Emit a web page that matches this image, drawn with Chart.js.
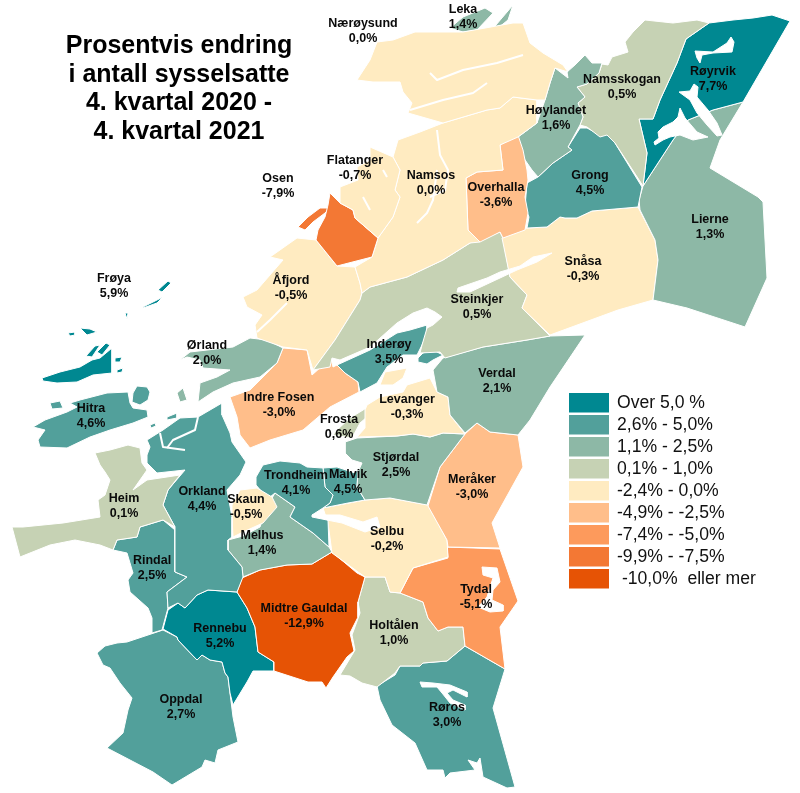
<!DOCTYPE html>
<html lang="no">
<head>
<meta charset="utf-8">
<title>Prosentvis endring i antall sysselsatte</title>
<script src="https://cdn.jsdelivr.net/npm/chart.js@4"></script>
<style>
  html, body { margin: 0; padding: 0; background: #fff; }
  canvas { display: block; }
</style>
</head>
<body>
<canvas id="kart" width="800" height="793"></canvas>
<script>
// Tittel og tegnforklaring
const tittel = ['Prosentvis endring', 'i antall sysselsatte', '4. kvartal 2020 -', '4. kvartal 2021'];
const klasseTekst = ['Over 5,0 %', '2,6% - 5,0%', '1,1% - 2,5%', '0,1% - 1,0%', '-2,4% - 0,0%',
  '-4,9% - -2,5%', '-7,4% - -5,0%', '-9,9% - -7,5%', ' -10,0%  eller mer'];
const klasseFarge = ['#008891', '#52A09B', '#8DB8A6', '#C6D2B4', '#FFEBC1',
  '#FFBE8A', '#FD9A5C', '#F37834', '#E65305'];

// Kommunene: navn, endring og fargeklasse
const kommuner = ['Nærøysund', 'Leka', 'Flatanger', 'Osen', 'Namsos', 'Overhalla', 'Høylandet', 'Namsskogan',
  'Røyrvik', 'Grong', 'Lierne', 'Snåsa', 'Steinkjer', 'Åfjord', 'Frøya', 'Ørland', 'Inderøy', 'Verdal',
  'Indre Fosen', 'Levanger', 'Frosta', 'Hitra', 'Stjørdal', 'Meråker', 'Heim', 'Orkland', 'Skaun',
  'Trondheim', 'Malvik', 'Selbu', 'Melhus', 'Rindal', 'Midtre Gauldal', 'Tydal', 'Holtålen', 'Rennebu',
  'Oppdal', 'Røros'];
const endring = [0.0, 1.4, -0.7, -7.9, 0.0, -3.6, 1.6, 0.5,
  7.7, 4.5, 1.3, -0.3, 0.5, -0.5, 5.9, 2.0, 3.5, 2.1,
  -3.0, -0.3, 0.6, 4.6, 2.5, -3.0, 0.1, 4.4, -0.5,
  4.1, 4.5, -0.2, 1.4, 2.5, -12.9, -5.1, 1.0, 5.2,
  2.7, 3.0];
const klasse = [4, 2, 4, 7, 4, 5, 2, 3,
  0, 1, 2, 4, 3, 4, 0, 2, 1, 2,
  5, 4, 3, 1, 2, 5, 3, 1, 4,
  1, 1, 4, 2, 1, 8, 6, 3, 0,
  1, 1];
const etikettX = [363, 463, 355, 278, 431, 496, 556, 622,
  713, 590, 710, 583, 477, 291, 114, 207, 389, 497,
  279, 407, 339, 91, 396, 472, 124, 202, 246,
  296, 348, 387, 262, 152, 304, 476, 394, 220,
  181, 447];
const etikettY = [24, 10, 161, 179, 176, 188, 111, 80,
  72, 176, 220, 262, 300, 281, 279, 346, 345, 374,
  398, 400, 420, 409, 458, 480, 499, 492, 500,
  476, 475, 532, 536, 561, 609, 590, 626, 629,
  700, 708];

// Omriss lest av kartet
const naeroeysund = [[377,42],[393,40],[415,32],[463,32],[513,23],[523,23],[530,43],[543,53],[563,65],[568,72],[555,68],[550,83],[545,100],[537,100],[513,97],[500,108],[487,110],[443,123],[408,113],[412,103],[403,92],[400,82],[373,82],[357,80],[370,60]];
const leka1 = [[450,28],[463,17],[485,8],[493,13],[477,30],[463,32]];
const leka2 = [[490,32],[513,5],[508,20],[493,32]];
const namsos = [[398,140],[420,132],[443,123],[487,110],[500,108],[513,97],[537,100],[537,123],[518,137],[500,145],[503,170],[477,172],[466,178],[468,230],[480,242],[470,243],[443,260],[407,277],[370,287],[362,293],[360,283],[355,267],[372,257],[378,238],[393,217],[400,197],[395,190],[400,170],[393,157]];
const flatanger = [[370,147],[393,157],[400,170],[395,190],[400,197],[393,217],[378,238],[355,218],[353,210],[340,203],[340,187],[358,180],[357,167],[370,160]];
const osen1 = [[330,193],[340,203],[353,210],[355,218],[378,238],[372,257],[337,266],[316,240],[318,230],[325,217],[328,205]];
const osen2 = [[298,227],[308,217],[320,208],[330,208],[325,213],[313,222],[305,230]];
const aafjord = [[316,240],[337,266],[355,267],[360,283],[362,293],[360,300],[335,340],[313,370],[307,350],[283,347],[257,338],[255,325],[262,315],[247,307],[243,297],[257,290],[283,260],[270,257],[297,238]];
const overhalla = [[518,135],[523,150],[527,170],[528,180],[525,197],[528,213],[525,230],[503,238],[500,232],[480,242],[468,230],[466,178],[477,172],[503,170],[500,145]];
const hoeylandet = [[585,55],[592,63],[602,63],[599,73],[587,84],[577,87],[585,97],[578,103],[583,117],[580,125],[568,147],[572,150],[553,163],[538,177],[532,170],[523,157],[518,137],[537,123],[545,100],[550,83],[555,68],[568,78],[567,72],[575,65]];
const namsskogan = [[709,23],[686,39],[677,63],[660,100],[653,119],[639,119],[647,153],[643,186],[615,143],[607,135],[600,137],[587,127],[580,125],[583,117],[578,103],[585,97],[577,87],[587,84],[599,73],[602,64],[608,65],[612,57],[628,52],[625,42],[633,32],[645,20],[673,23],[697,20]];
const roeyrvik = [[709,23],[733,20],[753,18],[772,15],[790,21],[743,102],[713,110],[688,120],[673,140],[643,186],[647,153],[639,119],[653,119],[660,100],[677,63],[686,39]];
const grong = [[587,128],[600,135],[607,134],[615,143],[642,187],[638,207],[592,211],[577,218],[565,218],[560,217],[547,227],[527,228],[529,217],[525,207],[527,183],[538,177],[553,163],[572,150],[568,147],[580,128]];
const lierne = [[743,102],[713,110],[688,120],[673,140],[643,186],[639,200],[640,210],[655,240],[658,260],[653,300],[687,308],[745,327],[767,278],[763,202],[758,197],[710,168],[720,140]];
const snaasa = [[638,207],[655,240],[658,260],[653,300],[618,310],[550,335],[522,308],[527,295],[510,277],[502,238],[527,228],[547,227],[560,217],[565,218],[577,218],[592,211]];
const steinkjer = [[362,293],[370,287],[407,277],[443,260],[470,243],[500,232],[503,238],[510,277],[527,295],[522,308],[550,336],[527,340],[483,347],[445,358],[440,352],[420,353],[422,345],[427,328],[433,325],[442,317],[435,312],[427,308],[413,313],[397,323],[370,347],[340,360],[332,358],[330,367],[313,370],[335,340],[360,300]];
const inderoey1 = [[337,365],[370,350],[397,333],[410,330],[427,325],[427,333],[422,345],[417,355],[403,355],[387,367],[377,383],[360,392],[358,382],[345,373]];
const inderoey2 = [[418,358],[423,353],[433,350],[443,355],[433,360],[427,364],[418,362]];
const verdal = [[585,335],[550,336],[527,340],[483,347],[443,358],[433,370],[437,392],[448,397],[450,415],[465,433],[477,423],[490,432],[518,435],[530,420],[550,387]];
const levanger1 = [[437,392],[448,397],[450,415],[465,434],[443,433],[430,437],[413,434],[397,436],[357,437],[365,428],[365,410],[367,405],[380,397],[403,392],[407,385],[430,378]];
const levanger2 = [[380,385],[385,372],[407,368],[403,378],[393,385]];
const frosta = [[368,407],[367,417],[360,423],[352,438],[333,435],[337,430],[350,418]];
const stjoerdal = [[465,434],[443,433],[430,437],[413,434],[397,436],[357,438],[345,442],[345,453],[352,460],[362,463],[358,472],[357,487],[365,500],[390,498],[427,505],[440,467]];
const meraaker = [[477,423],[490,432],[518,435],[523,467],[492,523],[500,548],[448,547],[447,540],[428,506],[440,467],[465,434]];
const selbu = [[323,508],[365,500],[390,498],[428,505],[447,540],[448,557],[413,568],[400,593],[390,592],[385,577],[365,577],[332,553],[328,523]];
const trondheim = [[256,477],[263,465],[280,461],[300,463],[307,467],[323,468],[325,487],[333,495],[330,503],[323,508],[312,515],[328,520],[329,547],[313,533],[290,517],[295,507],[275,493],[270,497],[262,492],[256,485]];
const malvik = [[323,468],[337,467],[355,473],[362,465],[358,472],[357,487],[365,500],[348,503],[323,508],[330,503],[333,495],[325,487]];
const melhus = [[228,540],[243,536],[260,527],[268,505],[275,493],[295,507],[290,517],[313,533],[329,547],[332,552],[312,564],[287,565],[260,570],[243,577],[242,567],[228,550]];
const skaun = [[240,490],[257,488],[272,497],[277,507],[263,523],[243,532],[233,537],[232,517],[232,505]];
const orkland = [[147,455],[150,447],[147,440],[163,430],[180,418],[198,417],[222,403],[222,415],[230,433],[232,442],[246,462],[240,475],[227,490],[232,517],[232,537],[228,540],[228,550],[242,567],[243,577],[237,592],[208,590],[197,595],[185,608],[178,603],[168,608],[167,592],[187,577],[175,572],[175,540],[175,527],[163,505],[168,490],[185,470],[157,473],[147,463]];
const orkland2 = [[167,417],[177,413],[177,418],[167,420]];
const rindal = [[140,527],[163,520],[175,530],[175,572],[187,577],[167,592],[168,608],[162,630],[152,633],[152,618],[148,608],[130,592],[128,580],[133,573],[127,553],[113,550],[117,540],[137,537]];
const heim = [[95,453],[110,450],[128,445],[140,448],[142,463],[147,470],[133,490],[147,480],[180,475],[168,490],[163,505],[175,527],[163,520],[140,527],[137,537],[117,540],[113,550],[100,545],[75,540],[50,545],[20,557],[12,527],[23,527],[63,523],[100,517],[98,500],[105,495],[110,480],[105,472],[100,465]];
const hitra1 = [[33,427],[45,420],[67,412],[77,407],[70,403],[80,400],[107,393],[128,392],[130,403],[133,408],[147,410],[148,417],[133,423],[110,430],[90,437],[67,448],[40,447],[38,440],[45,430]];
const hitra2 = [[133,393],[137,386],[147,387],[150,392],[148,400],[140,405],[132,402]];
const hitra3 = [[50,403],[60,401],[63,408],[52,409]];
const hitra4 = [[150,425],[155,423],[156,426],[151,428]];
const froeya1 = [[42,378],[60,372],[80,367],[92,360],[100,358],[112,348],[112,373],[93,375],[77,382],[57,383],[43,381]];
const froeya2 = [[115,358],[122,357],[120,362],[115,362]];
const froeya3 = [[117,370],[123,368],[122,372],[117,373]];
const froeya4 = [[143,307],[163,297],[157,303],[143,308]];
const froeya5 = [[68,333],[75,332],[75,335],[70,336]];
const froeya6 = [[80,328],[90,329],[97,332],[87,335]];
const froeya7 = [[86,356],[95,346],[100,345],[92,357]];
const froeya8 = [[97,352],[106,343],[110,345],[102,355]];
const froeya9 = [[125,313],[128,313],[127,319]];
const froeya10 = [[158,290],[168,281],[171,283],[162,292]];
const oerland1 = [[180,360],[190,352],[233,347],[250,338],[267,340],[283,348],[277,363],[260,377],[233,383],[213,392],[198,402],[200,383],[217,377],[230,370],[203,368],[200,360],[187,357]];
const oerland2 = [[177,393],[183,388],[187,400],[180,402]];
const indreFosen = [[230,397],[250,390],[263,377],[277,363],[283,348],[307,350],[312,375],[331,358],[333,367],[337,365],[345,373],[358,382],[359,392],[330,407],[303,430],[270,440],[250,448],[240,435],[237,417]];
const oppdal = [[97,653],[105,646],[117,643],[127,642],[163,630],[177,637],[178,640],[197,660],[202,655],[210,660],[222,662],[225,673],[228,677],[230,693],[233,717],[238,742],[218,750],[215,763],[205,760],[202,767],[172,785],[153,772],[107,748],[123,733],[128,710],[132,698],[120,683],[110,668],[103,665]];
const rennebu = [[168,610],[178,603],[185,608],[197,595],[208,590],[237,592],[247,608],[255,627],[258,652],[274,662],[274,671],[253,671],[247,682],[233,705],[230,693],[228,677],[225,673],[222,662],[210,660],[202,655],[197,660],[178,640],[177,637],[163,629]];
const midtreGauldal = [[242,578],[260,570],[287,565],[312,564],[332,552],[357,573],[365,577],[358,602],[358,617],[350,633],[354,651],[347,657],[333,677],[326,688],[322,682],[308,682],[274,671],[274,662],[258,652],[255,627],[247,608],[237,592]];
const holtaalen = [[365,577],[385,577],[390,592],[400,593],[423,602],[428,618],[438,631],[448,627],[463,627],[465,646],[447,661],[423,663],[420,666],[400,666],[395,673],[377,687],[362,683],[350,676],[340,675],[355,650],[352,635],[360,613],[358,602]];
const tydal = [[447,547],[500,549],[518,601],[500,627],[505,669],[465,646],[463,627],[448,627],[438,631],[428,618],[423,602],[400,593],[413,568],[448,558]];
const roeros = [[377,686],[395,675],[400,666],[420,666],[423,663],[447,661],[465,646],[505,669],[493,708],[515,787],[507,788],[483,777],[480,758],[477,763],[468,760],[475,770],[450,773],[445,778],[443,770],[427,770],[415,743],[392,725],[380,700]];

// Innsjøer (hvite flater oppå kommunene)
const innsjoer = [
  [[695,51],[713,52],[727,43],[731,37],[734,42],[732,52],[713,53],[702,55],[700,63],[697,58]],
  [[679,92],[690,91],[694,84],[698,87],[697,97],[708,110],[717,123],[722,135],[717,136],[707,125],[697,113],[690,100]],
  [[680,108],[685,118],[697,132],[708,137],[693,140],[680,135],[670,137],[663,140],[655,145],[654,142],[659,138],[658,132],[663,127],[673,122],[678,117]],
  [[552,253],[533,257],[520,266],[500,272],[487,278],[458,288],[457,292],[470,292],[500,278],[517,270],[537,262]],
  [[312,515],[340,515],[363,522],[377,517],[380,527],[365,532],[342,523],[312,517]],
  [[482,567],[497,568],[500,582],[493,590],[492,600],[503,605],[503,611],[490,612],[478,607],[487,597],[490,587],[493,578],[483,575]],
  [[420,682],[433,683],[450,685],[467,692],[467,697],[453,690],[447,693],[453,700],[465,705],[465,710],[450,703],[442,693],[437,687],[422,687]]
];

// Smale fjorder og grenser i samme farge (hvite linjer)
const fjorder = [
  [[437,130],[440,155],[448,170],[445,190],[430,197]],
  [[417,223],[427,213],[433,200],[437,170]],
  [[523,55],[497,63],[463,70],[437,80],[430,73]],
  [[487,83],[473,93],[443,100],[410,110]],
  [[160,433],[163,447],[185,450]],
  [[198,417],[195,430],[173,440],[167,448]],
  [[257,332],[270,320],[287,303]],
  [[363,197],[370,210]],
  [[383,170],[387,177]]
];

// Hver flate: omriss og indeks inn i kommuner
const flater = [
  [naeroeysund, 0], [leka1, 1], [leka2, 1], [flatanger, 2], [osen1, 3], [osen2, 3], [namsos, 4],
  [overhalla, 5], [hoeylandet, 6], [namsskogan, 7], [roeyrvik, 8], [grong, 9], [lierne, 10],
  [snaasa, 11], [steinkjer, 12], [aafjord, 13], [froeya1, 14], [froeya2, 14], [froeya3, 14],
  [froeya4, 14], [froeya5, 14], [froeya6, 14], [froeya7, 14], [froeya8, 14], [froeya9, 14],
  [froeya10, 14], [oerland1, 15], [oerland2, 15],
  [inderoey1, 16], [inderoey2, 16], [verdal, 17], [indreFosen, 18], [levanger1, 19], [levanger2, 19],
  [frosta, 20], [hitra1, 21], [hitra2, 21], [hitra3, 21], [hitra4, 21], [stjoerdal, 22], [meraaker, 23], [heim, 24],
  [orkland, 25], [orkland2, 25], [skaun, 26], [trondheim, 27], [malvik, 28], [selbu, 29], [melhus, 30], [rindal, 31],
  [midtreGauldal, 32], [tydal, 33], [holtaalen, 34], [rennebu, 35], [oppdal, 36], [roeros, 37]
];

function lagPunkter(omriss, lukk) {
  const punkter = omriss.map(function (p) { return { x: p[0], y: p[1] }; });
  if (lukk) {
    punkter.push({ x: omriss[0][0], y: omriss[0][1] });
  }
  return punkter;
}

function flate(omriss, farge, rekkefolge, etikett) {
  return {
    label: etikett,
    data: lagPunkter(omriss, true),
    showLine: true,
    fill: 'shape',
    backgroundColor: farge,
    borderColor: '#ffffff',
    borderWidth: 1,
    pointRadius: 0,
    order: rekkefolge
  };
}

const datasett = [];
flater.forEach(function (f) {
  datasett.push(flate(f[0], klasseFarge[klasse[f[1]]], 2, kommuner[f[1]]));
});
innsjoer.forEach(function (omriss) {
  datasett.push(flate(omriss, '#ffffff', 1, 'Innsjø'));
});
fjorder.forEach(function (omriss) {
  datasett.push({
    label: 'Fjord',
    data: lagPunkter(omriss, false),
    showLine: true,
    fill: false,
    borderColor: '#ffffff',
    borderWidth: 2,
    pointRadius: 0,
    order: 0
  });
});

// Tekst som ligger oppå kartet: tittel, kommunenavn og tegnforklaring
const kartTekst = {
  id: 'kartTekst',
  afterDraw: function (chart) {
    const c = chart.ctx;
    const x = chart.scales.x;
    const y = chart.scales.y;
    c.save();
    c.textBaseline = 'middle';

    c.textAlign = 'center';
    c.fillStyle = '#000000';
    c.font = 'bold 25px "Liberation Sans"';
    tittel.forEach(function (linje, i) {
      c.fillText(linje, 179, 46 + i * 28.7);
    });

    c.font = 'bold 12.5px "Liberation Sans"';
    c.fillStyle = '#0a0a0a';
    kommuner.forEach(function (navn, i) {
      const px = x.getPixelForValue(etikettX[i]);
      const py = y.getPixelForValue(etikettY[i]);
      const tall = endring[i].toFixed(1).replace('.', ',') + '%';
      c.fillText(navn, px, py);
      c.fillText(tall, px, py + 14.5);
    });

    c.textAlign = 'left';
    c.font = '17.6px "Liberation Sans"';
    klasseTekst.forEach(function (tekst, i) {
      c.fillStyle = klasseFarge[i];
      c.fillRect(569, 393 + i * 22, 40, 19.5);
      c.fillStyle = '#111111';
      c.fillText(tekst, 617, 403.5 + i * 22);
    });
    c.restore();
  }
};

new Chart(document.getElementById('kart').getContext('2d'), {
  type: 'scatter',
  data: { datasets: datasett },
  plugins: [kartTekst],
  options: {
    responsive: false,
    animation: false,
    layout: { padding: 0 },
    elements: { line: { tension: 0, borderJoinStyle: 'round' } },
    plugins: {
      legend: { display: false },
      tooltip: { enabled: false },
      title: { display: false }
    },
    scales: {
      x: { type: 'linear', min: 0, max: 800, display: false },
      y: { type: 'linear', min: 0, max: 793, reverse: true, display: false }
    }
  }
});
</script>
</body>
</html>
